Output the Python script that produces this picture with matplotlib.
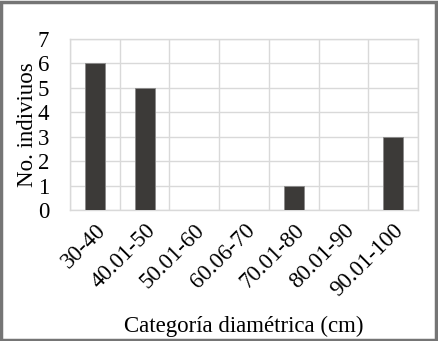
import numpy as np
import matplotlib
matplotlib.use("Agg")
from matplotlib import pyplot as plt
from matplotlib.patches import Rectangle

categorias = ["30-40", "40.01-50", "50.01-60", "60.06-70", "70.01-80", "80.01-90", "90.01-100"]
individuos = [6, 5, 0, 0, 1, 0, 3]

plt.rcParams['font.family'] = ['Liberation Serif', 'DejaVu Serif']

fig = plt.figure(figsize=(4.38, 3.41), dpi=100)
ax = fig.add_axes([70 / 438, 131 / 341, 348 / 438, 171 / 341])

x = np.arange(len(categorias))
ax.bar(x, individuos, width=0.4, color='#3c3a38', edgecolor='#8a8a8a', linewidth=0.6, zorder=3)

ax.set_xlim(-0.5, len(categorias) - 0.5)
ax.set_ylim(0, 7)
ax.set_yticks(range(0, 8))
ax.set_xticks(x)
ax.set_xticklabels(categorias, rotation=45, ha='right', rotation_mode='anchor')
ax.set_xticks(np.arange(-0.5, len(categorias)), minor=True)

grid_c = '#d9d9d9'
ax.grid(axis='y', color=grid_c, linewidth=1, zorder=0)
ax.grid(axis='x', which='minor', color=grid_c, linewidth=1, zorder=0)
ax.grid(axis='x', which='major', visible=False)
for s in ax.spines.values():
    s.set_color(grid_c)
    s.set_linewidth(1)

fs = 16.5
ax.tick_params(axis='both', which='both', length=0, labelsize=fs)
ax.tick_params(axis='y', pad=15)
ax.tick_params(axis='x', pad=7)

ax.set_ylabel("No. indiviuos", fontsize=fs, labelpad=0)
ax.set_xlabel("Categoría diamétrica (cm)", fontsize=fs, labelpad=11)

# marco exterior de la figura
fig.patches.append(Rectangle((0.003, 0.004), 0.993, 0.991, transform=fig.transFigure,
                             fill=False, edgecolor='#757575', linewidth=2.5))

fig.savefig("out.png", dpi=100)
